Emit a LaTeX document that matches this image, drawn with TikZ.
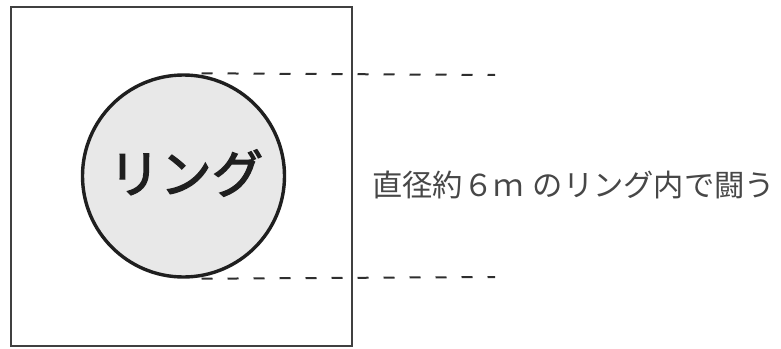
\documentclass[tikz,border=0pt]{standalone}
\usepackage{fontspec}
\newfontfamily\cjk{Noto Sans CJK JP}
\newfontfamily\cjkmid[FakeBold=2.5]{Noto Sans CJK JP}
\begin{document}
\begin{tikzpicture}[x=1pt,y=-1pt]
  \tikzstyle{ring}=[circle,draw=black!88,line width=3.4pt,fill=black!9,minimum size=202pt,inner sep=0pt]
  \tikzstyle{guide}=[dash pattern=on 11pt off 15pt,line width=2pt,black!82]
  \useasboundingbox (0,0) rectangle (781,348);
  \node[draw=black!75,line width=1.6pt,minimum width=341pt,minimum height=339pt,inner sep=0pt] (arena) at (181.5,176.5) {};
  \node[ring] (R) at (183.5,176) {};
  \node[font=\cjkmid\fontsize{51.5}{52}\selectfont,text=black!88] (R_lbl) at (186,173) {リング};
  \coordinate (top_end) at (495,75);
  \coordinate (bot_end) at (495,277);
  \draw[guide] ([xshift=18pt]R.north) -- (top_end);
  \draw[guide] ([xshift=18pt]R.south) -- (bot_end);
  \node[font=\cjk\fontsize{30.3}{31}\selectfont,text=black!72,anchor=west,inner sep=0pt] (caption) at (372,185) {直径約６ｍ\hspace{9pt}のリング内で闘う};
\end{tikzpicture}
\end{document}
